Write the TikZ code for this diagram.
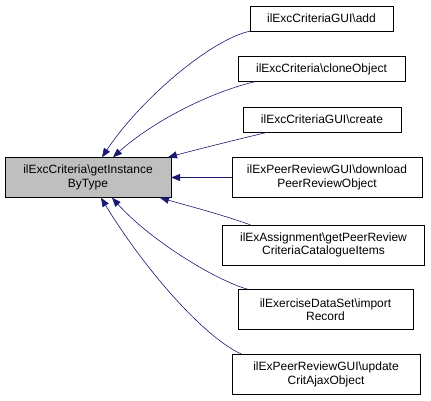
\documentclass[tikz,border=0pt]{standalone}
\usepackage{fontspec}
\setmainfont{Liberation Sans}
\usetikzlibrary{arrows.meta}
\definecolor{edgeblue}{HTML}{191970}
\definecolor{mainfill}{HTML}{BFBFBF}

\begin{document}
\begin{tikzpicture}[
    x=1pt, y=-1pt,
    fn node/.style={rectangle, draw=black, fill=white, inner xsep=2pt, inner ysep=1pt, minimum height=25pt, align=center, font=\fontsize{12}{13.5}\selectfont},
    main node/.style={fn node, fill=mainfill, minimum height=40pt},
    two node/.style={fn node, minimum height=40pt},
    call edge/.style={draw=edgeblue, semithick, {Triangle[length=9pt,width=7pt]}-}
]
\useasboundingbox (0,0) rectangle (431,401);

% Funktion
\node[main node, minimum width=166pt] (inst) at (88,177.5) {ilExcCriteria\textbackslash getInstance\\ByType};

% Aufrufer
\node[fn node, minimum width=143pt] (add) at (321.5,18.5) {ilExcCriteriaGUI\textbackslash add};
\node[fn node, minimum width=167pt] (clone) at (321.5,69) {ilExcCriteria\textbackslash cloneObject};
\node[fn node, minimum width=158pt] (create) at (322,119.5) {ilExcCriteriaGUI\textbackslash create};
\node[two node, minimum width=190pt] (dl) at (327,177.5) {ilExPeerReviewGUI\textbackslash download\\PeerReviewObject};
\node[two node, minimum width=202pt] (cat) at (323.5,245) {ilExAssignment\textbackslash getPeerReview\\CriteriaCatalogueItems};
\node[two node, minimum width=175pt] (imp) at (325.5,309.5) {ilExerciseDataSet\textbackslash import\\Record};
\node[two node, minimum width=188pt] (upd) at (326,374.5) {ilExPeerReviewGUI\textbackslash update\\CritAjaxObject};

% Kanten
\draw[call edge] ([xshift=14pt]inst.north) .. controls (140,100) and (210,40) .. (add.south west);
\draw[call edge] ([xshift=25pt]inst.north) .. controls (145,128) and (200,95) .. ([xshift=17pt]clone.south west);
\draw[call edge] ([xshift=80pt]inst.north) .. controls (195,150) and (235,140) .. ([xshift=25pt]create.south west);
\draw[call edge] (inst.east) -- (dl.west);
\draw[call edge] ([xshift=72pt]inst.south) .. controls (185,205) and (220,214) .. ([xshift=28pt]cat.north west);
\draw[call edge] ([xshift=24pt]inst.south) .. controls (150,240) and (215,280) .. ([xshift=10pt]imp.north west);
\draw[call edge] ([xshift=13pt]inst.south) .. controls (140,262) and (200,335) .. ([xshift=10pt]upd.north west);

\end{tikzpicture}
\end{document}
